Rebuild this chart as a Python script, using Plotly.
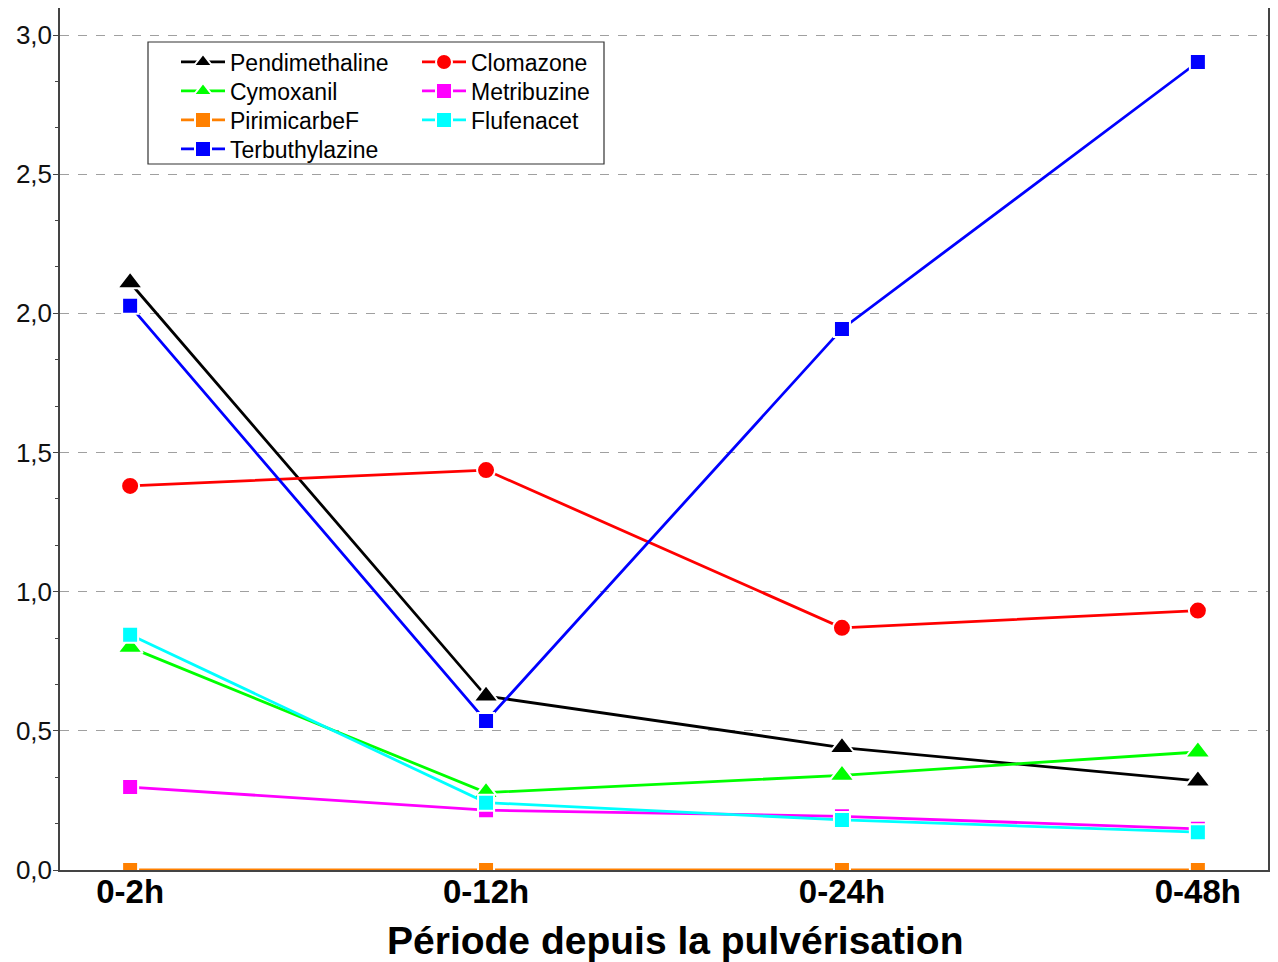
import plotly.graph_objects as go

periods = ["0-2h", "0-12h", "0-24h", "0-48h"]
pendimethaline = [2.11, 0.625, 0.44, 0.32]
clomazone = [1.38, 1.437, 0.87, 0.932]
cymoxanil = [0.80, 0.278, 0.34, 0.424]
metribuzine = [0.298, 0.215, 0.193, 0.148]
pirimicarbef = [0.0, 0.0, 0.0, 0.0]
flufenacet = [0.845, 0.242, 0.18, 0.136]
terbuthylazine = [2.027, 0.535, 1.944, 2.903]

series = [
    ("Pendimethaline", pendimethaline, "#000000", "triangle-up", 22),
    ("Clomazone", clomazone, "#ff0000", "circle", 18),
    ("Cymoxanil", cymoxanil, "#00ff00", "triangle-up", 22),
    ("Metribuzine", metribuzine, "#ff00ff", "square", 16),
    ("PirimicarbeF", pirimicarbef, "#ff8000", "square", 16),
    ("Flufenacet", flufenacet, "#00ffff", "square", 16),
    ("Terbuthylazine", terbuthylazine, "#0000ff", "square", 16),
]

# page body has an 8px default margin: work in screen pixels and convert
OFF = 8
W, H = 1278 - OFF, 962 - OFF
SL, SR, ST, SB = 60, 1268, 8, 870  # plot area in screen pixels
L, R, T, B = SL - OFF, W - (SR - OFF), ST - OFF, H - (SB - OFF)
PW, PH = W - L - R, H - T - B
YTOP = (SB - ST) / ((870 - 35) / 3.0)


def px_x(p):
    return (p - SL) / PW


def px_y(p):
    return (SB - p) / PH


row_y = [62, 91, 120, 149]
col_x = [176, 417]

fig = go.Figure()
legends = {}
for i, (name, vals, color, sym, size) in enumerate(series):
    lname = "legend" if i == 0 else f"legend{i + 1}"
    fig.add_trace(go.Scatter(
        x=list(range(len(periods))), y=vals, name=name, mode="lines+markers",
        line=dict(color=color, width=2.8),
        marker=dict(symbol=sym, size=size, color=color, line=dict(color="white", width=2.0)),
        legend=lname,
    ))
    legends[lname] = dict(
        x=px_x(col_x[i % 2]), y=px_y(row_y[i // 2]),
        xanchor="left", yanchor="middle",
        font=dict(family="Liberation Sans, Arial", size=23, color="black"),
        bgcolor="rgba(0,0,0,0)", borderwidth=0, itemwidth=44,
    )

# invisible trace on top axis for ticks
fig.add_trace(go.Scatter(x=[0], y=[0], xaxis="x2", showlegend=False,
                         mode="markers", marker=dict(opacity=0), hoverinfo="skip"))

fig.update_layout(
    width=W, height=H,
    margin=dict(l=L, r=R, t=T, b=B, autoexpand=False),
    paper_bgcolor="white", plot_bgcolor="white",
    separators=",.",
    font=dict(family="Liberation Sans, Arial", color="black"),
    xaxis=dict(
        range=[-0.197, 3.197], tickmode="array", tickvals=[0, 1, 2, 3], ticktext=periods,
        showgrid=False, zeroline=False, ticks="", automargin=False, ticklabelstandoff=-8,
        tickfont=dict(family="Liberation Sans, Arial", size=33, color="black", weight="bold"),
        showline=True, linecolor="#444", linewidth=1.5, mirror=True,
    ),
    xaxis2=dict(
        range=[-0.197, 3.197], overlaying="x", side="top", tickmode="array",
        tickvals=[0, 0.5, 1, 1.5, 2, 2.5, 3], showticklabels=False, ticks="outside",
        ticklen=6, tickcolor="#444", showgrid=False, zeroline=False, anchor="y",
        automargin=False,
    ),
    yaxis=dict(
        range=[0, YTOP], tickmode="linear", tick0=0, dtick=0.5, tickformat=".1f",
        showgrid=True, gridcolor="#a0a0a0", griddash="dash", gridwidth=1,
        zeroline=False, ticks="outside", ticklen=5, tickcolor="#444", automargin=False,
        ticklabelstandoff=-4,
        tickfont=dict(family="Liberation Sans, Arial", size=26, color="#111"),
        showline=True, linecolor="#444", linewidth=1.5, mirror="ticks",
        minor=dict(dtick=0.5 / 3, ticks="outside", ticklen=3, tickcolor="#444", showgrid=False),
    ),
    shapes=[dict(type="rect", xref="paper", yref="paper",
                 x0=px_x(148), x1=px_x(604), y0=px_y(164), y1=px_y(42),
                 line=dict(color="#333", width=1.2), fillcolor="rgba(0,0,0,0)")],
    annotations=[dict(text="<b>Période depuis la pulvérisation</b>", xref="paper", yref="paper",
                      x=px_x(675), y=px_y(940), xanchor="center", yanchor="middle",
                      showarrow=False,
                      font=dict(family="Liberation Sans, Arial", size=39, color="black"))],
    **legends,
)

fig.write_html("out.html")
